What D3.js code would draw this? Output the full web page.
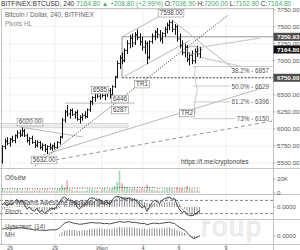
<!DOCTYPE html>
<html>
<head>
<meta charset="utf-8">
<script src="https://cdn.jsdelivr.net/npm/d3@7"></script>
<style>
  html, body { margin: 0; padding: 0; background: #fff; }
  svg { display: block; font-family: "Liberation Sans", Arial, sans-serif; }
</style>
</head>
<body>
<svg id="chart" width="300" height="250"></svg>
<script>
// ---- data (4h bars) ----
var OPEN  = [5530,5740,5820,5790,5850,5830,5900,5940,5910,5970, 5900,5830,5860,5800,5760,5800,5730,5760,5700,5740,
             5720,5750,5730,5800,5880,6130,6250,6220,6270,6210, 6240,6140,6170,6200,6180,6280,6400,6460,6520,6480,
             6540,6490,6520,6560,6500,6620,6760,6960,7040,7000, 7150,7250,7330,7260,7380,7340,7280,7200,7250,7050,
             7280,7360,7420,7380,7320,7400,7460,7520,7560,7460, 7500,7320,7220,7120,7200,7020,7080,7000,7130,7100];
var HIGH  = [5760,5860,5880,5870,5900,5920,5980,5990,6020,6000, 5930,5880,5900,5840,5830,5820,5790,5780,5760,5790,
             5770,5800,5820,5900,6160,6280,6350,6290,6300,6260, 6280,6200,6230,6260,6300,6420,6480,6540,6585,6560,
             6580,6550,6600,6600,6640,6780,7000,7080,7120,7180, 7300,7380,7400,7420,7460,7400,7350,7300,7280,7300,
             7400,7450,7480,7450,7420,7500,7560,7598,7590,7540, 7520,7400,7300,7250,7230,7120,7150,7180,7220,7200];
var LOW   = [5490,5700,5760,5740,5800,5790,5860,5880,5890,5880, 5800,5760,5780,5720,5730,5700,5680,5660,5632,5690,
             5680,5700,5710,5770,5860,6090,6180,6150,6190,6150, 6120,6080,6120,6150,6160,6250,6350,6400,6450,6430,
             6460,6420,6470,6446,6480,6600,6740,6880,6950,6980, 7100,7180,7200,7230,7300,7220,7150,7100,6950,7020,
             7250,7300,7330,7280,7250,7350,7400,7450,7420,7380, 7280,7180,7080,7050,6980,6930,6950,6960,7060,7040];
var CLOSE = [5740,5820,5790,5850,5830,5900,5940,5910,5970,5900, 5830,5860,5800,5760,5800,5730,5760,5700,5740,5720,
             5750,5730,5800,5880,6130,6250,6220,6270,6210,6240, 6140,6170,6200,6180,6280,6400,6460,6520,6480,6540,
             6490,6520,6560,6500,6620,6760,6960,7040,7000,7150, 7250,7330,7260,7380,7340,7280,7200,7250,7050,7280,
             7360,7420,7380,7320,7400,7460,7520,7560,7460,7500, 7320,7220,7120,7200,7020,7080,7000,7130,7100,7164.8];
var VOLUME = [6,4,3,4,3,4,5,3,4,3, 4,3,3,4,3,4,3,5,4,3, 3,3,4,6,12,9,18,6,4,3, 4,3,3,3,4,6,5,4,4,3,
              5,7,4,5,6,10,16,32,14,9, 8,7,6,7,6,5,7,6,12,8, 5,4,4,3,4,5,6,7,5,4, 8,6,7,5,10,6,5,4,4,3];
var VOLUME_MA = [6,6,6,6,6,6,6,6,6,6, 6,6,6,6,6,6,6,6,6,6, 6,6,6,6,6,6,7,7,7,7, 7,7,7,7,7,7,7,7,7,7,
                 7,7,7,7,7,7,7,8,8,8, 8,8,8,8,8,8,8,8,8,8, 8,8,7,7,7,7,7,7,7,7, 7,7,7,7,7,7,7,7,7,7];
var STOCH_K = [60,70,55,65,60,75,85,70,80,60, 40,50,35,30,45,25,35,20,30,40, 45,40,55,70,90,95,85,80,70,75,
               50,40,55,60,75,90,92,88,80,85, 70,65,75,60,80,95,98,96,90,85, 88,92,80,85,75,60,45,55,30,50,
               70,80,75,65,80,88,92,95,85,88, 60,40,25,30,15,12,10,18,22,35];
var STOCH_D = [62,62,62,63,60,67,73,77,78,70, 60,50,42,38,37,33,35,27,28,30, 38,42,47,55,72,85,90,87,78,75,
               65,55,48,52,63,75,86,90,87,84, 78,73,70,67,72,78,91,96,95,90, 88,88,87,86,80,73,60,53,43,45,
               50,67,75,73,73,78,87,92,91,89, 78,63,42,32,23,19,12,13,17,25];
var AO = [-20,-15,-10,-5,0,5,10,12,14,10, 5,0,-5,-10,-15,-20,-25,-28,-30,-28, -25,-22,-18,-10,5,20,30,38,42,45,
          45,42,40,38,38,40,45,50,55,58, 55,52,50,48,50,58,65,75,82,85, 85,82,78,72,65,58,50,42,35,30,
          28,28,30,32,35,38,42,45,44,40, 30,15,0,-15,-30,-45,-55,-60,-62,-60];
var MOM_LINE = [45,50,46,50,48,52,56,54,56,52, 48,46,44,40,42,38,40,36,38,40, 42,40,44,52,70,85,92,95,88,85,
                82,78,80,82,85,88,90,88,86,88, 84,82,84,80,84,88,92,96,94,92, 94,96,90,92,88,86,82,84,76,80,
                84,86,84,82,86,88,90,92,86,84, 70,58,48,40,22,6,-12,-16,-8,2];
var MOM_HIST = [0,0,0,0,0,0,0,0,0,0, 0,0,0,0,0,0,0,0,0,0, 0,0,0,10,25,35,40,42,40,38,
                36,35,36,38,40,45,48,50,48,50, 48,46,48,45,48,52,56,60,58,56, 58,60,56,55,52,50,48,50,45,48,
                50,52,50,48,52,54,56,58,52,50, 40,32,25,20,8,-5,-12,-15,-10,-5];

var PRICE_TICKS = [7750, 7500, 7250, 7000, 6750, 6500, 6250, 6000, 5750, 5500];
var PRICE_MARKS = [7350.93, 7164.80, 6750.00];
var X_TICKS = [3.2, 21.2, 40, 56.4, 70.8, 89.6];
var X_LABELS = ['26', '29', 'Июл', '4', '6', '9'];
var FIB_LEVELS = [38.2, 50.0, 61.2, 73];
var FIB_PRICES = [6857, 6629, 6396, 6150];

// drawings, in (bar index, price)
var TR1 = [[13.2, 5459], [90.4, 7668]];
var TR2 = [[16.4, 5617], [104, 6599]];
var LOWER_TREND = [[21.2, 5544], [108, 6115]];
var CHANNEL_UP = [[48, 7350.93], [65.2, 7697]];
var CHANNEL_LOW = [[48, 6750], [75.2, 7302]];
var PEAK_DOWN = [[68, 7598], [93.2, 6862]];
var FAN_UP = [[77.2, 7185], [103.2, 7331]];
var FAN_DOWN = [[77.2, 7068], [95.2, 6921]];
var LEVEL_6350 = [[25.2, 6379], [53.2, 6379]];
var DROP_6020 = [[7.2, 6027], [32.4, 5881]];
var RANGE_BOX = [48, 6750, 7350.93];
var BAND_6020 = [-1, 50.4, 6020, 6080];
var LABEL_TEXT = ['7598.00', '6585', '6446', '6287', '6020.00', '5632.00', 'TR1', 'TR2'];
var LABEL_AT = [[67.6, 7697], [39.2, 6569], [47.2, 6438], [47.2, 6276], [11.2, 6100], [16.8, 5544], [56, 6657], [74, 6233]];

// ---- layout ----
var W = 300, H = 250, AXISX = 273;
var GREEN = '#3fae6a', UPVOL = '#9fd8ac', DNVOL = '#f2a8ac';
var svg = d3.select('#chart');

var x = d3.scaleLinear().domain([0, 79]).range([2, 199.5]);
var yP = d3.scaleLinear().domain([5500, 7750]).range([163, 9.6]);
var yV = d3.scaleLinear().domain([0, 20]).range([193, 179]);
var yS = d3.scaleLinear().domain([0, 100]).range([218, 196]);
var yA = d3.scaleLinear().domain([-100, 100]).range([219, 195]);
var yM = d3.scaleLinear().domain([-20, 100]).range([239, 221]);

var defs = svg.append('defs');
defs.append('clipPath').attr('id', 'mainClip').append('rect')
  .attr('x', 0).attr('y', 9).attr('width', AXISX).attr('height', 159);
defs.append('clipPath').attr('id', 'paneClip').append('rect')
  .attr('x', 0).attr('y', 195).attr('width', AXISX).attr('height', 49);

// grid
var gGrid = svg.append('g');
gGrid.selectAll('line.v').data(X_TICKS).join('line')
  .attr('x1', function(d) { return x(d); }).attr('x2', function(d) { return x(d); })
  .attr('y1', 9).attr('y2', 244).attr('stroke', '#f0f0f0');
gGrid.selectAll('line.h').data(PRICE_TICKS).join('line')
  .attr('x1', 0).attr('x2', AXISX)
  .attr('y1', function(d) { return yP(d); }).attr('y2', function(d) { return yP(d); })
  .attr('stroke', '#f3f3f3');

// watermark, kept inside the lower panes
svg.append('g').attr('clip-path', 'url(#paneClip)')
  .append('text').attr('x', 201).attr('y', 236).text('roup')
  .attr('font-size', 27).attr('letter-spacing', 2).attr('fill', '#f3f3f3')
  .attr('stroke', '#dcdcdc').attr('stroke-width', 0.6);

// ---- main pane ----
var gMain = svg.append('g').attr('clip-path', 'url(#mainClip)');
function seg(pts) { return 'M' + x(pts[0][0]) + ',' + yP(pts[0][1]) + 'L' + x(pts[1][0]) + ',' + yP(pts[1][1]); }

gMain.append('rect')
  .attr('x', x(BAND_6020[0])).attr('width', x(BAND_6020[1]) - x(BAND_6020[0]))
  .attr('y', yP(BAND_6020[3])).attr('height', yP(BAND_6020[2]) - yP(BAND_6020[3]))
  .attr('fill', '#ececec').attr('stroke', '#c8c8c8').attr('stroke-width', 0.6);

// range box 6750 - 7350.93
gMain.append('path')
  .attr('d', 'M' + AXISX + ',' + yP(RANGE_BOX[2]) + 'H' + x(RANGE_BOX[0]) + 'V' + yP(RANGE_BOX[1]))
  .attr('fill', 'none').attr('stroke', '#7a7a7a').attr('stroke-width', 0.8);
gMain.append('line')
  .attr('x1', x(RANGE_BOX[0])).attr('x2', AXISX)
  .attr('y1', yP(RANGE_BOX[1])).attr('y2', yP(RANGE_BOX[1]))
  .attr('stroke', '#333').attr('stroke-width', 0.9).attr('stroke-dasharray', '2,1.5');

var greyLines = [TR2, CHANNEL_UP, CHANNEL_LOW, PEAK_DOWN, LEVEL_6350, DROP_6020];
gMain.selectAll('path.grey').data(greyLines).join('path').attr('class', 'grey')
  .attr('d', seg).attr('fill', 'none').attr('stroke', '#a8a8a8').attr('stroke-width', 0.8);
gMain.selectAll('path.fan').data([FAN_UP, FAN_DOWN]).join('path').attr('class', 'fan')
  .attr('d', seg).attr('fill', 'none').attr('stroke', '#cfcfcf').attr('stroke-width', 1.2);
gMain.append('path').attr('d', seg(LOWER_TREND))
  .attr('fill', 'none').attr('stroke', '#8a8a8a').attr('stroke-width', 0.9).attr('stroke-dasharray', '4,3');
gMain.append('path').attr('d', seg(TR1))
  .attr('fill', 'none').attr('stroke', '#222').attr('stroke-width', 0.9).attr('stroke-dasharray', '1,1.6');

// fib levels
var gFib = gMain.append('g');
var fibText = gFib.selectAll('text').data(FIB_LEVELS).join('text')
  .attr('x', AXISX - 4).attr('y', function(d, i) { return yP(FIB_PRICES[i]) + 2.5; })
  .attr('text-anchor', 'end').attr('font-size', 6.3).attr('fill', '#555')
  .text(function(d, i) { return d.toFixed(d === 73 ? 0 : 1) + '% - ' + FIB_PRICES[i]; });
fibText.each(function(d, i) {
  var len = this.getComputedTextLength();
  var xEnd = i === 0 ? AXISX : AXISX - 4 - len - 2;
  var yy = i === 0 ? yP(FIB_PRICES[i]) - 4 : yP(FIB_PRICES[i]);
  gFib.append('line').attr('x1', x(76.5)).attr('x2', xEnd).attr('y1', yy).attr('y2', yy)
    .attr('stroke', '#bdbdbd').attr('stroke-width', 0.8);
});
gFib.append('path')
  .attr('d', 'M' + x(77.5) + ',' + (yP(FIB_PRICES[0]) - 4) + 'q-3,8 0,15 q3,8 0,16 q-3,8 0,16')
  .attr('fill', 'none').attr('stroke', '#bdbdbd').attr('stroke-width', 0.8);

// OHLC bars
var bars = d3.range(CLOSE.length);
gMain.selectAll('path.bar').data(bars).join('path').attr('class', 'bar')
  .attr('d', function(i) {
    var cx = Math.round(x(i)) + 0.5;
    return 'M' + cx + ',' + yP(HIGH[i]) + 'V' + yP(LOW[i]) +
      'M' + (cx - 1.2) + ',' + yP(OPEN[i]) + 'H' + cx +
      'M' + cx + ',' + yP(CLOSE[i]) + 'H' + (cx + 1.2);
  })
  .attr('fill', 'none').attr('stroke', '#111').attr('stroke-width', 1);

gMain.append('ellipse').attr('cx', x(76.4)).attr('cy', yP(7155)).attr('rx', 6).attr('ry', 4)
  .attr('fill', 'none').attr('stroke', '#9a9a9a').attr('stroke-width', 0.8);

// boxed labels
var gLab = gMain.selectAll('g.lab').data(LABEL_TEXT).join('g').attr('class', 'lab')
  .attr('transform', function(d, i) { return 'translate(' + x(LABEL_AT[i][0]) + ',' + yP(LABEL_AT[i][1]) + ')'; });
gLab.append('rect').attr('fill', '#fff').attr('stroke', '#8c8c8c').attr('stroke-width', 0.6);
gLab.append('text').attr('text-anchor', 'middle').attr('y', 2.2)
  .attr('font-size', 6.3).attr('fill', '#444').text(function(d) { return d; });
gLab.each(function() {
  var g = d3.select(this);
  var w = g.select('text').node().getComputedTextLength() + 3;
  g.select('rect').attr('x', -w / 2).attr('y', -3.8).attr('width', w).attr('height', 7.6);
});

svg.append('text').attr('x', 5).attr('y', 17).attr('font-size', 6.5).attr('fill', '#666')
  .text('Bitcoin / Dollar, 240, BITFINEX');
svg.append('text').attr('x', 5).attr('y', 26).attr('font-size', 6.3).attr('fill', '#8a8a8a')
  .text('Pivots HL');
svg.append('text').attr('x', 181).attr('y', 164).attr('font-size', 6.5).attr('fill', '#444')
  .text('https://t.me/cryptonotes');

// ---- volume pane ----
var gVol = svg.append('g');
gVol.selectAll('rect').data(bars).join('rect')
  .attr('x', function(i) { return x(i) - 0.8; }).attr('width', 1.6)
  .attr('y', function(i) { return yV(VOLUME[i]); })
  .attr('height', function(i) { return yV(0) - yV(VOLUME[i]); })
  .attr('fill', function(i) { return CLOSE[i] >= OPEN[i] ? UPVOL : DNVOL; });
gVol.append('path').datum(bars)
  .attr('d', d3.line().x(function(i) { return x(i); }).y(function(i) { return yV(VOLUME_MA[i]); }))
  .attr('fill', 'none').attr('stroke', '#222').attr('stroke-width', 0.8).attr('stroke-dasharray', '1,1.5');
svg.append('text').attr('x', 5).attr('y', 180).attr('font-size', 6.5).attr('fill', '#555').text('Объём');

// ---- AO + Stoch pane ----
var gOsc = svg.append('g');
gOsc.selectAll('line.lvl').data([80, 20]).join('line').attr('class', 'lvl')
  .attr('x1', 0).attr('x2', AXISX)
  .attr('y1', function(d) { return yS(d); }).attr('y2', function(d) { return yS(d); })
  .attr('stroke', '#555').attr('stroke-width', 0.7).attr('stroke-dasharray', '3,2');
gOsc.selectAll('line.ao').data(bars).join('line').attr('class', 'ao')
  .attr('x1', function(i) { return x(i); }).attr('x2', function(i) { return x(i); })
  .attr('y1', yA(0)).attr('y2', function(i) { return yA(AO[i]); })
  .attr('stroke', '#777').attr('stroke-width', 0.8);
gOsc.append('path').datum(bars)
  .attr('d', d3.line().x(function(i) { return x(i); }).y(function(i) { return yS(STOCH_D[i]); }))
  .attr('fill', 'none').attr('stroke', '#333').attr('stroke-width', 0.8).attr('stroke-dasharray', '1,1.3');
gOsc.append('path').datum(bars)
  .attr('d', d3.line().x(function(i) { return x(i); }).y(function(i) { return yS(STOCH_K[i]); }))
  .attr('fill', 'none').attr('stroke', '#222').attr('stroke-width', 0.8);
svg.append('text').attr('x', 5).attr('y', 205).attr('font-size', 6.3).attr('fill', '#444')
  .text('Bill Williams Awesome Oscillator (AO)');
svg.append('text').attr('x', 5).attr('y', 214).attr('font-size', 6.3).attr('fill', '#555').text('Stoch');

// ---- momentum pane ----
var gMom = svg.append('g');
gMom.selectAll('line').data(bars).join('line')
  .attr('x1', function(i) { return x(i); }).attr('x2', function(i) { return x(i); })
  .attr('y1', yM(0)).attr('y2', function(i) { return yM(MOM_HIST[i]); })
  .attr('stroke', '#666').attr('stroke-width', 0.7);
gMom.append('path').datum(bars)
  .attr('d', d3.line().x(function(i) { return x(i); }).y(function(i) { return yM(MOM_LINE[i]); }))
  .attr('fill', 'none').attr('stroke', '#222').attr('stroke-width', 0.8);
svg.append('text').attr('x', 5).attr('y', 229).attr('font-size', 6.3).attr('fill', '#555').text('Чувствит. (14)');
svg.append('text').attr('x', 5).attr('y', 237).attr('font-size', 6.3).attr('fill', '#555').text('MH');

// ---- frames ----
var gFrame = svg.append('g').attr('stroke', '#b5b5b5').attr('stroke-width', 0.8);
[168.5, 194.5, 219.5, 244.5].forEach(function(yy) {
  gFrame.append('line').attr('x1', 0).attr('x2', W).attr('y1', yy).attr('y2', yy);
});
gFrame.append('line').attr('x1', AXISX + 0.5).attr('x2', AXISX + 0.5).attr('y1', 8).attr('y2', 250);
gFrame.append('path').attr('d', 'M' + (AXISX + 0.5) + ',8.5H3.5q-2,0 -2,2V244.5').attr('fill', 'none');

// ---- right axis ----
var gAx = svg.append('g').attr('font-size', 6.2).attr('fill', '#555');
gAx.selectAll('text.p').data(PRICE_TICKS).join('text').attr('class', 'p')
  .attr('x', AXISX + 4).attr('y', function(d) { return yP(d) + 2.2; })
  .text(function(d) { return d.toFixed(2); });
gAx.selectAll('line.p').data(PRICE_TICKS).join('line').attr('class', 'p')
  .attr('x1', AXISX).attr('x2', AXISX + 2.5)
  .attr('y1', function(d) { return yP(d); }).attr('y2', function(d) { return yP(d); })
  .attr('stroke', '#888').attr('stroke-width', 0.6);
var marks = gAx.selectAll('g.mark').data(PRICE_MARKS).join('g').attr('class', 'mark')
  .attr('transform', function(d) { return 'translate(' + AXISX + ',' + yP(d) + ')'; });
marks.append('rect').attr('x', 0.5).attr('y', -4).attr('width', W - AXISX).attr('height', 8)
  .attr('fill', function(d, i) { return i === 1 ? '#111' : '#4d4d4d'; });
marks.append('text').attr('x', 4).attr('y', 2.2).attr('fill', '#fff').attr('font-weight', 'bold')
  .text(function(d) { return d.toFixed(2); });

var paneTicks = [['20K', yV(20)], ['0', yV(0)], ['0.0000', yA(0)], ['0.0000', yM(0)]];
gAx.selectAll('text.o').data(paneTicks).join('text').attr('class', 'o')
  .attr('x', AXISX + 4).attr('y', function(d) { return d[1] + 2.2; }).text(function(d) { return d[0]; });
gAx.selectAll('line.o').data(paneTicks).join('line').attr('class', 'o')
  .attr('x1', AXISX).attr('x2', AXISX + 2.5)
  .attr('y1', function(d) { return d[1]; }).attr('y2', function(d) { return d[1]; })
  .attr('stroke', '#888').attr('stroke-width', 0.6);

// ---- bottom axis ----
var gX = svg.append('g').attr('font-size', 5.6).attr('fill', '#555');
gX.selectAll('text').data(X_TICKS).join('text')
  .attr('x', function(d) { return x(d); }).attr('y', 249.6).attr('text-anchor', 'middle')
  .text(function(d, i) { return X_LABELS[i]; });
gX.selectAll('line').data(X_TICKS).join('line')
  .attr('x1', function(d) { return x(d); }).attr('x2', function(d) { return x(d); })
  .attr('y1', 244.5).attr('y2', 246).attr('stroke', '#888').attr('stroke-width', 0.6);

// ---- header ----
var head = svg.append('text').attr('x', 1).attr('y', 5.6).attr('font-size', 6.6).attr('fill', '#333');
head.append('tspan').text('BITFINEX:BTCUSD, 240 ');
head.append('tspan').attr('fill', GREEN).text('7164.80 ▲ +208.80 (+2.99%) ');
[['O:', '7036.90 '], ['H:', '7200.00 '], ['L:', '7102.80 '], ['C:', '7164.80']].forEach(function(p) {
  head.append('tspan').text(p[0]);
  head.append('tspan').attr('fill', GREEN).text(p[1]);
});
</script>
</body>
</html>
